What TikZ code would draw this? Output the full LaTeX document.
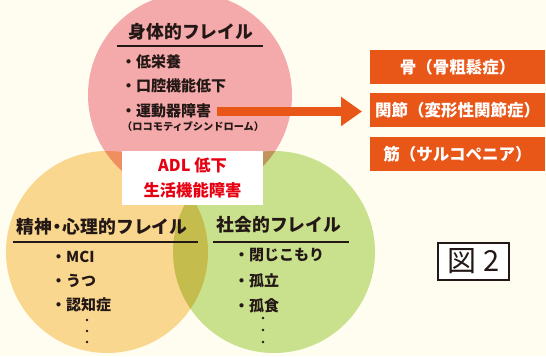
\documentclass[tikz,border=0pt]{standalone}
\usepackage{fontspec}
\newfontfamily\jp{Noto Sans CJK JP}
\usetikzlibrary{arrows.meta}
\definecolor{bgcream}{HTML}{FFFDF0}
\definecolor{pinkc}{HTML}{F4A9AA}
\definecolor{orangec}{HTML}{FAD78F}
\definecolor{greenc}{HTML}{C9E08C}
\definecolor{boxorange}{HTML}{E85618}
\definecolor{darktext}{HTML}{231815}
\definecolor{redtext}{HTML}{E60012}
\tikzset{
  heading/.style={font=\jp\bfseries\fontsize{17.8}{20}\selectfont, text=darktext, inner sep=0pt},
  item/.style={font=\jp\bfseries\fontsize{15}{17}\selectfont, text=darktext, inner sep=0pt, anchor=west},
  small/.style={font=\jp\bfseries\fontsize{10.2}{12}\selectfont, text=darktext, inner sep=0pt, anchor=west},
  rule/.style={draw=darktext, line width=2pt},
  vdot/.style={circle, fill=darktext, inner sep=0pt, minimum size=2.6pt},
  obox/.style={fill=boxorange, text=white, font=\jp\bfseries\fontsize{16.5}{19}\selectfont, minimum width=175pt, minimum height=34pt, inner sep=0pt},
  redlbl/.style={text=redtext, font=\jp\bfseries\fontsize{16.3}{19}\selectfont, inner sep=0pt},
}
\begin{document}
\begin{tikzpicture}[x=1pt,y=-1pt]
\fill[bgcream] (0,0) rectangle (546,356);
\useasboundingbox (0,0) rectangle (546,356);
\begin{scope}[blend group=multiply]
  \fill[pinkc] (190,95) circle[radius=102];
  \fill[orangec] (107,252) circle[radius=101];
  \fill[greenc] (274,252) circle[radius=101];
\end{scope}

% physical frailty
\node[heading] (h1) at (191,32) {身体的フレイル};
\coordinate (u1a) at (117,46); \coordinate (u1b) at (263,46);
\draw[rule] (u1a) -- (u1b);
\node[item] (p1) at (121,62) {・低栄養};
\node[item] (p2) at (121,86) {・口腔機能低下};
\node[item] (p3) at (121,111) {・運動器障害};
\node[small] (p4) at (122,127) {（ロコモティブシンドローム）};

% arrow
\coordinate (arrS) at (217,111.5);
\coordinate (arrE) at (362,111.5);
\draw[boxorange, line width=9pt, -{Triangle[length=21pt,width=28pt]}] (arrS) -- (arrE);

% orange boxes
\node[obox] (b1) at (457.5,67) {骨（骨粗鬆症）};
\node[obox] (b2) at (457.5,110) {関節（変形性関節症）};
\node[obox] (b3) at (457.5,154) {筋（サルコペニア）};

% ADL box
\node[fill=white, minimum width=141pt, minimum height=54pt, inner sep=0pt] (adl) at (192.5,178) {};
\node[redlbl] (adl1) at (192.5,165) {ADL 低下};
\node[redlbl] (adl2) at (192.5,190) {生活機能障害};

% mental frailty
\node[heading] (h2) at (102,227) {精神{\kern-3.5pt}・{\kern-3.5pt}心理的フレイル};
\coordinate (u2a) at (13,242); \coordinate (u2b) at (198,242);
\draw[rule] (u2a) -- (u2b);
\node[item] (m1) at (51,257) {・MCI};
\node[item] (m2) at (51,281) {・うつ};
\node[item] (m3) at (51,305) {・認知症};
\node[vdot] (md1) at (87,320) {};
\node[vdot] (md2) at (87,331) {};
\node[vdot] (md3) at (87,342) {};

% social frailty
\node[heading] (h3) at (279,225) {社会的フレイル};
\coordinate (u3a) at (213,242); \coordinate (u3b) at (349,242);
\draw[rule] (u3a) -- (u3b);
\node[item] (s1) at (234,255) {・閉じこもり};
\node[item] (s2) at (234,281) {・孤立};
\node[item] (s3) at (234,306) {・孤食};
\node[vdot] (sd1) at (263,318) {};
\node[vdot] (sd2) at (263,330) {};
\node[vdot] (sd3) at (263,342) {};

% figure label
\node[draw=darktext, line width=2pt, fill=white, minimum width=71pt, minimum height=37pt, inner sep=0pt, font=\jp\fontsize{29}{32}\selectfont, text=darktext] (fig) at (473.5,261.5) {図 2};
\end{tikzpicture}
\end{document}
